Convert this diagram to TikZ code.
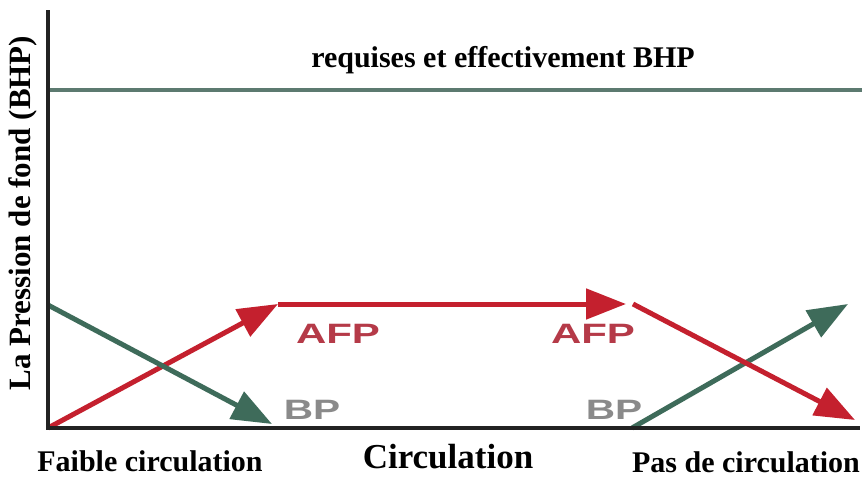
\documentclass[tikz,border=0pt]{standalone}
\usepackage{fontspec}
\setmainfont{Liberation Serif}
\newfontfamily\labelsans{Liberation Sans}
\usetikzlibrary{arrows.meta}
\definecolor{curvered}{HTML}{C4202E}
\definecolor{curvegreen}{HTML}{3E6B5A}
\definecolor{refline}{HTML}{5C7A70}
\definecolor{axisgray}{HTML}{222222}
\definecolor{afptext}{HTML}{B53A48}
\definecolor{bptext}{HTML}{8A8A8A}
\tikzset{
  axisline/.style={draw=axisgray, line width=3.5pt},
  bigtip/.style={-{Triangle[length=40pt,width=30pt]}},
  redcurve/.style={draw=curvered, line width=5pt},
  greencurve/.style={draw=curvegreen, line width=5pt},
  serifbold/.style={font=\fontsize{#1}{#1}\selectfont\bfseries, inner sep=0pt},
  curvelabel/.style={inner sep=0pt, font=\labelsans\fontsize{28}{28}\selectfont\bfseries},
}
\begin{document}
\begin{tikzpicture}[x=1pt,y=-1pt]
\useasboundingbox (0,0) rectangle (868,479);
\fill[white] (0,0) rectangle (868,479);

% key points of the chart
\coordinate (O) at (48,428);
\coordinate (Ytop) at (48,10);
\coordinate (Xend) at (860,428);
\coordinate (Rl) at (48,90);
\coordinate (Rr) at (862,90);
\coordinate (A1) at (278,304);
\coordinate (A2) at (626,304);
\coordinate (A2s) at (633,304);
\coordinate (A3) at (855,420);
\coordinate (G0) at (48,305);
\coordinate (G1) at (272,424);
\coordinate (G2) at (632,428);
\coordinate (G3) at (848,304);

% required / effective BHP level
\draw[draw=refline, line width=4pt] (Rl) -- (Rr);
\node[serifbold=30, anchor=base] (req) at (503,67) {requises et effectivement BHP};

% annular friction pressure (red)
\draw[redcurve, bigtip] (O) -- (A1);
\draw[redcurve, bigtip] (A1) -- (A2);
% back pressure (green)
\draw[greencurve, bigtip] (G0) -- (G1);
\draw[greencurve, bigtip] (G2) -- (G3);
\draw[redcurve, bigtip] (A2s) -- (A3);

% axes
\draw[axisline] (Ytop) -- (O) -- (Xend);

% curve labels
\node[curvelabel, text=afptext] (afp1) at (338,334) {\scalebox{1.5}[1]{AFP}};
\node[curvelabel, text=afptext] (afp2) at (593,334) {\scalebox{1.5}[1]{AFP}};
\node[curvelabel, text=bptext] (bp1) at (312,410) {\scalebox{1.45}[1]{BP}};
\node[curvelabel, text=bptext] (bp2) at (614,410) {\scalebox{1.45}[1]{BP}};

% axis titles
\node[serifbold=30, anchor=base] (low) at (150,471) {Faible circulation};
\node[serifbold=35, anchor=base] (mid) at (448,468) {Circulation};
\node[serifbold=30, anchor=base] (none) at (746,472) {Pas de circulation};
\node[serifbold=31, rotate=90] (yl) at (23,213) {La Pression de fond (BHP)};
\end{tikzpicture}
\end{document}
